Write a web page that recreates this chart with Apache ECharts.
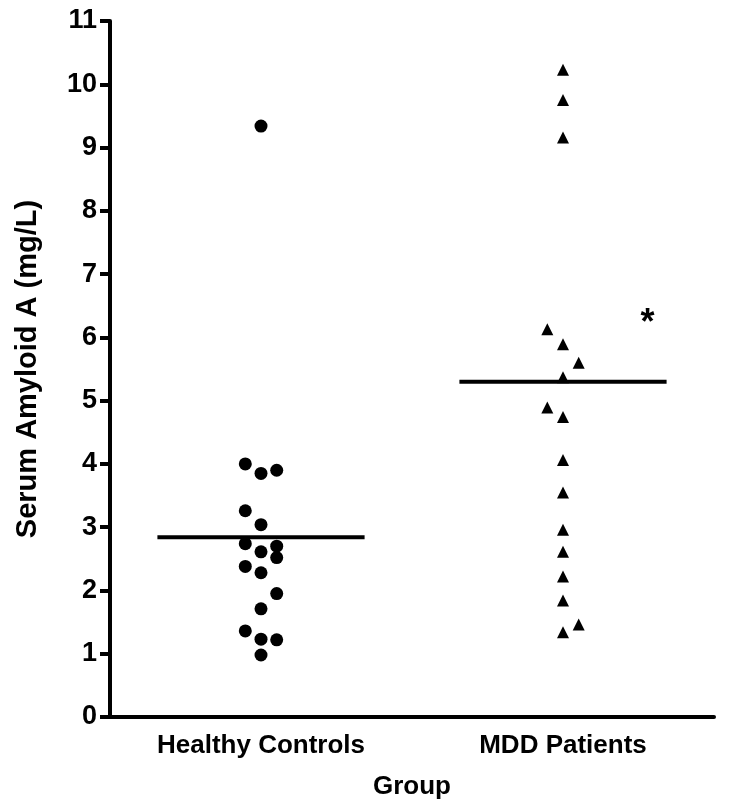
<!DOCTYPE html>
<html>
<head>
<meta charset="utf-8">
<script src="https://cdn.jsdelivr.net/npm/echarts@6/dist/echarts.min.js"></script>
<style>
  html, body { margin: 0; padding: 0; background: #fff; }
  #main { width: 732px; height: 811px; }
</style>
</head>
<body>
<div id="main"></div>
<script>
// groups on the x axis
var categories = ['Healthy Controls', 'MDD Patients'];

// serum amyloid A values (mg/L)
var healthyValues = [9.34, 4.00, 3.85, 3.90, 3.26, 3.04, 2.74, 2.61, 2.70, 2.52, 2.38, 2.28, 1.95, 1.71, 1.36, 1.23, 1.22, 0.98];
// column of each dot inside the group (-1 left, 0 middle, 1 right)
var healthyColumn = [0, -1, 0, 1, -1, 0, -1, 0, 1, 1, -1, 0, 1, 0, -1, 0, 1, 0];

var mddValues = [10.23, 9.75, 9.16, 6.13, 5.89, 5.60, 5.37, 4.89, 4.74, 4.06, 3.55, 2.96, 2.61, 2.22, 1.84, 1.46, 1.34];
var mddColumn = [0, 0, 0, -1, 0, 1, 0, -1, 0, 0, 0, 0, 0, 0, 0, 1, 0];

// group means (horizontal bars)
var groupMeans = [2.84, 5.30];

var yMin = 0, yMax = 11, yStep = 1;

var colStep = 0.052;   // spacing of jitter columns, in group units
var meanHalf = 0.343;  // half length of the mean bar, in group units
var font = '"Liberation Sans", Arial, sans-serif';

function points(values, cols, groupIdx) {
    return values.map(function (v, i) {
        return [groupIdx + 0.5 + cols[i] * colStep, v];
    });
}

function meanLine(groupIdx) {
    var c = groupIdx + 0.5;
    return [[c - meanHalf, groupMeans[groupIdx]], [c + meanHalf, groupMeans[groupIdx]]];
}

var chart = echarts.init(document.getElementById('main'));

var option = {
    animation: false,
    backgroundColor: '#fff',
    grid: { left: 110, right: 18, top: 21, bottom: 94 },
    xAxis: [
        {
            type: 'category',
            data: categories,
            boundaryGap: true,
            name: 'Group',
            nameLocation: 'middle',
            nameGap: 57,
            nameTextStyle: { fontFamily: font, fontWeight: 'bold', fontSize: 26, color: '#000' },
            axisLine: { lineStyle: { color: '#000', width: 4 } },
            axisTick: { alignWithLabel: true, length: 10, lineStyle: { color: '#000', width: 4 } },
            axisLabel: { fontFamily: font, fontWeight: 'bold', fontSize: 26, color: '#000', margin: 16 },
            splitLine: { show: false }
        },
        {
            type: 'value',
            min: 0,
            max: categories.length,
            show: false
        }
    ],
    yAxis: {
        type: 'value',
        min: yMin,
        max: yMax,
        interval: yStep,
        name: 'Serum Amyloid A (mg/L)',
        nameLocation: 'middle',
        nameGap: 68,
        nameTextStyle: { fontFamily: font, fontWeight: 'bold', fontSize: 29, color: '#000' },
        axisLine: { show: true, lineStyle: { color: '#000', width: 4 } },
        axisTick: { show: true, length: 10, lineStyle: { color: '#000', width: 4 } },
        axisLabel: { fontFamily: font, fontWeight: 'bold', fontSize: 27, color: '#000', margin: 13 },
        splitLine: { show: false }
    },
    series: [
        {
            name: categories[0],
            type: 'scatter',
            xAxisIndex: 1,
            symbol: 'circle',
            symbolSize: 13,
            itemStyle: { color: '#000', opacity: 1 },
            data: points(healthyValues, healthyColumn, 0)
        },
        {
            name: categories[1],
            type: 'scatter',
            xAxisIndex: 1,
            symbol: 'triangle',
            symbolSize: 12,
            itemStyle: { color: '#000', opacity: 1 },
            data: points(mddValues, mddColumn, 1),
            markPoint: {
                symbol: 'circle',
                symbolSize: 0,
                data: [{ coord: [1.78, 6.35], value: '*' }],
                label: { show: true, formatter: '*', fontFamily: font, fontWeight: 'bold', fontSize: 36, color: '#000', offset: [0, 9] }
            }
        },
        {
            type: 'line',
            xAxisIndex: 1,
            symbol: 'none',
            lineStyle: { color: '#000', width: 4 },
            data: meanLine(0)
        },
        {
            type: 'line',
            xAxisIndex: 1,
            symbol: 'none',
            lineStyle: { color: '#000', width: 4 },
            data: meanLine(1)
        }
    ]
};

chart.setOption(option);
</script>
</body>
</html>
